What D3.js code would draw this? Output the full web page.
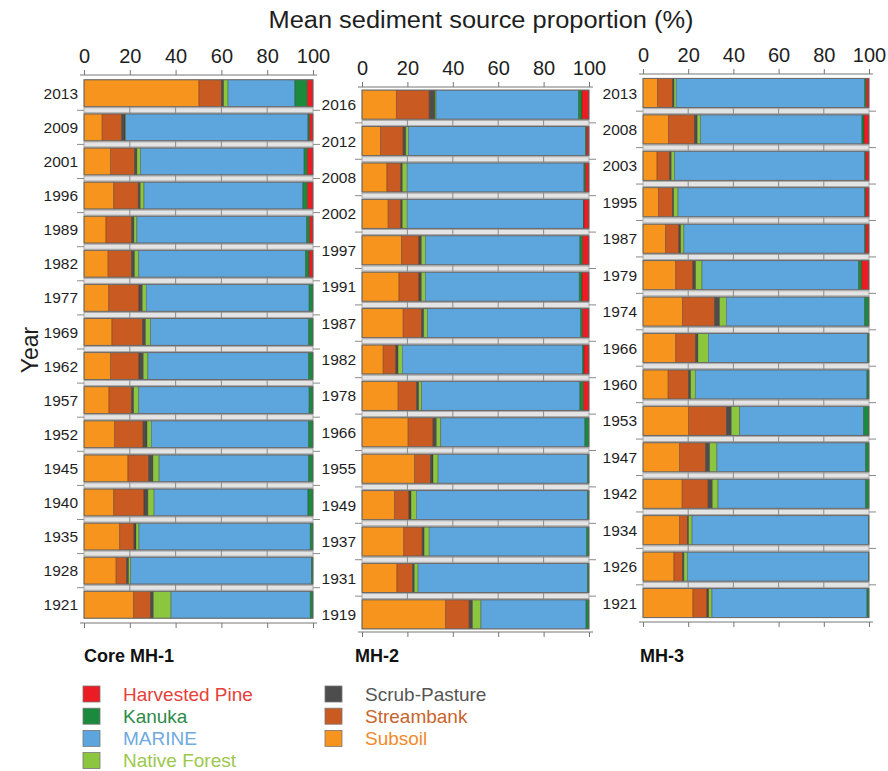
<!DOCTYPE html>
<html>
<head>
<meta charset="utf-8">
<script src="https://cdn.jsdelivr.net/npm/d3@7"></script>
<style>
  body { margin: 0; background: #fff; }
  svg { font-family: "Liberation Sans", Arial, sans-serif; }
</style>
</head>
<body>
<svg id="chart" width="888" height="771"></svg>
<script>
(function () {
    'use strict';

    // stacking order, left to right
    var sources = ['Subsoil', 'Streambank', 'Scrub-Pasture', 'Native Forest', 'MARINE', 'Kanuka', 'Harvested Pine'];
    var fills = ['#f7941e', '#c85a22', '#4d4d4d', '#8cc63f', '#5ca5dd', '#1b8a3c', '#ec1c24'];
    var legendText = ['#f08a2c', '#c8642c', '#555555', '#9cc84c', '#6eaadd', '#2e8a48', '#e5413a'];
    var xTicks = [0, 20, 40, 60, 80, 100];
    var xMinor = d3.range(0, 101, 5);

    var mh1Years = ['2013', '2009', '2001', '1996', '1989', '1982', '1977', '1969',
                    '1962', '1957', '1952', '1945', '1940', '1935', '1928', '1921'];
    var mh1Values = [
        [50.2, 9.8, 1.0, 1.9, 29.2, 5.4, 2.5],
        [7.9, 8.5, 1.5, 0.3, 79.6, 0.7, 1.5],
        [11.6, 10.5, 1.0, 1.6, 71.4, 1.4, 2.5],
        [13.0, 10.7, 0.9, 1.6, 69.4, 1.9, 2.5],
        [9.6, 11.2, 1.0, 1.3, 74.1, 1.3, 1.5],
        [10.5, 10.2, 1.4, 1.8, 72.8, 1.6, 1.7],
        [10.8, 13.2, 1.5, 1.7, 71.1, 1.7, 0],
        [12.2, 13.3, 1.4, 2.2, 69.0, 1.9, 0],
        [11.6, 12.4, 1.9, 2.0, 70.2, 1.9, 0],
        [10.9, 9.8, 1.0, 2.2, 74.4, 1.7, 0],
        [13.4, 12.4, 1.7, 1.9, 68.7, 1.9, 0],
        [19.2, 9.0, 1.9, 2.7, 65.3, 1.9, 0],
        [13.0, 13.2, 1.7, 2.7, 67.2, 2.2, 0],
        [15.6, 6.2, 0.9, 1.3, 74.8, 1.2, 0],
        [14.0, 4.6, 0.9, 0.9, 78.9, 0.7, 0],
        [21.7, 7.4, 1.2, 7.7, 60.8, 1.2, 0]
    ];

    var mh2Years = ['2016', '2012', '2008', '2002', '1997', '1991', '1987', '1982',
                    '1978', '1966', '1955', '1949', '1937', '1931', '1919'];
    var mh2Values = [
        [15.1, 14.5, 2.5, 0.5, 62.8, 1.5, 3.1],
        [8.1, 10.0, 1.2, 1.1, 78.0, 0.6, 1.0],
        [11.0, 6.1, 0.7, 2.1, 77.9, 0.7, 1.5],
        [11.5, 5.6, 0.7, 2.1, 77.6, 0.3, 2.2],
        [17.4, 7.7, 1.1, 1.7, 68.1, 1.2, 2.8],
        [16.3, 8.8, 1.1, 1.7, 67.8, 1.2, 3.1],
        [18.1, 8.1, 1.0, 1.6, 67.5, 0.9, 2.8],
        [9.3, 5.6, 1.0, 1.9, 79.4, 0.6, 2.2],
        [15.9, 8.1, 1.0, 1.3, 69.7, 1.5, 2.5],
        [20.3, 11.0, 1.5, 1.9, 63.5, 1.8, 0],
        [23.2, 6.9, 1.2, 2.2, 65.8, 0.7, 0],
        [14.4, 6.3, 0.9, 2.4, 75.3, 0.7, 0],
        [18.4, 8.1, 0.9, 2.2, 69.4, 1.0, 0],
        [15.4, 6.8, 0.9, 1.6, 74.6, 0.7, 0],
        [36.8, 10.4, 1.5, 3.7, 46.3, 1.3, 0]
    ];

    var mh3Years = ['2013', '2008', '2003', '1995', '1987', '1979', '1974', '1966',
                    '1960', '1953', '1947', '1942', '1934', '1926', '1921'];
    var mh3Values = [
        [6.5, 6.5, 0.7, 1.0, 83.4, 0.7, 1.2],
        [11.2, 11.5, 1.3, 1.5, 71.4, 0.9, 2.2],
        [6.2, 5.6, 0.7, 1.5, 84.1, 0.5, 1.4],
        [6.8, 6.2, 0.6, 1.9, 82.6, 0.5, 1.4],
        [10.0, 5.9, 0.8, 1.4, 80.0, 0.5, 1.4],
        [14.5, 7.6, 1.2, 2.8, 69.3, 1.4, 3.2],
        [17.4, 14.3, 2.2, 3.0, 61.2, 1.9, 0],
        [14.5, 8.8, 1.0, 4.6, 70.4, 0.7, 0],
        [11.1, 9.0, 1.0, 2.1, 75.9, 0.9, 0],
        [20.2, 16.7, 2.2, 3.7, 54.8, 2.4, 0],
        [16.2, 11.5, 1.8, 3.2, 65.8, 1.5, 0],
        [17.3, 11.5, 1.9, 2.5, 65.3, 1.5, 0],
        [16.2, 3.4, 0.6, 1.5, 78.0, 0.3, 0],
        [13.7, 3.7, 0.7, 1.5, 80.1, 0.3, 0],
        [22.1, 6.2, 0.8, 1.4, 68.6, 0.9, 0]
    ];

    var svg = d3.select('#chart');

    var cores = [
        {title: 'Core MH-1', years: mh1Years, values: mh1Values,
         left: 84, right: 313, top: 75, bottom: 623, pIn: 0.21, pOut: 0.14, titleX: 84},
        {title: 'MH-2', years: mh2Years, values: mh2Values,
         left: 362, right: 589, top: 87, bottom: 632, pIn: 0.2, pOut: 0.085, titleX: 355},
        {title: 'MH-3', years: mh3Years, values: mh3Values,
         left: 643, right: 869, top: 74, bottom: 622, pIn: 0.2, pOut: 0.12, titleX: 640}
    ];

    cores.forEach(drawCore);

    function drawCore(c) {
        var g = svg.append('g');

        var x = d3.scaleLinear().domain([0, 100]).range([c.left, c.right]);
        var y = d3.scaleBand()
            .domain(c.years)
            .range([c.top, c.bottom])
            .paddingInner(c.pIn)
            .paddingOuter(c.pOut);

        var rows = c.years.map(function (yr, i) {
            var r = {year: yr};
            sources.forEach(function (s, j) { r[s] = c.values[i][j]; });
            return r;
        });
        var stacked = d3.stack().keys(sources)(rows);

        // grey separator strips between the bars
        var sepG = g.append('g');
        for (var i = 1; i < c.years.length; i++) {
            var yA = y(c.years[i - 1]) + y.bandwidth();
            var yB = y(c.years[i]);
            var mid = (yA + yB) / 2;
            sepG.append('line')
                .attr('x1', x(0) - 7).attr('x2', x(100) + 7)
                .attr('y1', mid).attr('y2', mid)
                .attr('stroke', '#8a8a8a').attr('stroke-width', 1);
            sepG.append('rect')
                .attr('x', x(0)).attr('width', x(100) - x(0))
                .attr('y', mid - 2.5).attr('height', 5)
                .attr('fill', '#e4e4e4').attr('stroke', '#9a9a9a').attr('stroke-width', 0.8);
            [20, 40, 60, 80].forEach(function (t) {
                sepG.append('line')
                    .attr('x1', x(t)).attr('x2', x(t))
                    .attr('y1', mid - 3).attr('y2', mid + 3)
                    .attr('stroke', '#8a8a8a').attr('stroke-width', 1);
            });
        }

        // stacked bars
        g.append('g')
            .selectAll('g')
            .data(stacked)
            .join('g')
            .attr('fill', function (d, i) { return fills[i]; })
            .selectAll('rect')
            .data(function (d) { return d; })
            .join('rect')
            .attr('x', function (d) { return x(d[0]); })
            .attr('width', function (d) { return Math.max(0, x(d[1]) - x(d[0])); })
            .attr('y', function (d) { return y(d.data.year); })
            .attr('height', y.bandwidth())
            .attr('stroke', 'rgba(40,30,20,0.45)')
            .attr('stroke-width', 0.6);

        // bar outlines
        g.append('g')
            .selectAll('rect')
            .data(c.years)
            .join('rect')
            .attr('x', x(0))
            .attr('width', x(100) - x(0))
            .attr('y', function (d) { return y(d); })
            .attr('height', y.bandwidth())
            .attr('fill', 'none')
            .attr('stroke', '#6a6a6a')
            .attr('stroke-width', 1);

        // year labels
        g.append('g')
            .selectAll('text')
            .data(c.years)
            .join('text')
            .attr('x', c.left - 6)
            .attr('y', function (d) { return y(d) + y.bandwidth() / 2; })
            .attr('dy', '0.36em')
            .attr('text-anchor', 'end')
            .attr('font-size', 15.5)
            .attr('fill', '#1e1e1e')
            .text(function (d) { return d; });

        // top axis
        var top = g.append('g').attr('transform', 'translate(0,' + c.top + ')');
        top.call(d3.axisTop(x).tickValues(xMinor).tickSize(3).tickSizeOuter(0).tickFormat(''));
        top.call(d3.axisTop(x).tickValues(xTicks).tickSize(5).tickSizeOuter(0).tickPadding(7));
        top.selectAll('.domain').attr('d', 'M' + (x(0) - 4) + ',0H' + (x(100) + 4));
        top.selectAll('path, line').attr('stroke', '#777');
        top.selectAll('text').attr('font-size', 20).attr('fill', '#1e1e1e')
            .attr('font-family', '"Liberation Sans", Arial, sans-serif');

        // bottom axis
        var bot = g.append('g').attr('transform', 'translate(0,' + c.bottom + ')');
        bot.call(d3.axisBottom(x).tickValues(xMinor).tickSize(3).tickSizeOuter(0).tickFormat(''));
        bot.call(d3.axisBottom(x).tickValues(xTicks).tickSize(5).tickSizeOuter(0).tickFormat(''));
        bot.selectAll('.domain').attr('d', 'M' + (x(0) - 4) + ',0H' + (x(100) + 4));
        bot.selectAll('path, line').attr('stroke', '#777');

        // core title
        svg.append('text')
            .attr('x', c.titleX)
            .attr('y', 662)
            .attr('font-size', 18)
            .attr('font-weight', 'bold')
            .attr('fill', '#111')
            .text(c.title);
    }

    // main title and y label
    svg.append('text')
        .attr('x', 481).attr('y', 28)
        .attr('text-anchor', 'middle')
        .attr('font-size', 23)
        .attr('textLength', 425)
        .attr('lengthAdjust', 'spacingAndGlyphs')
        .attr('fill', '#1e1e1e')
        .text('Mean sediment source proportion (%)');

    svg.append('text')
        .attr('transform', 'translate(38,350) rotate(-90)')
        .attr('text-anchor', 'middle')
        .attr('font-size', 23)
        .attr('fill', '#1e1e1e')
        .text('Year');

    // legend, alphabetical in two columns
    var legendOrder = ['Harvested Pine', 'Kanuka', 'MARINE', 'Native Forest',
                       'Scrub-Pasture', 'Streambank', 'Subsoil'];
    var leg = svg.append('g');
    legendOrder.forEach(function (name, k) {
        var idx = sources.indexOf(name);
        var col = k < 4 ? 0 : 1;
        var row = k < 4 ? k : k - 4;
        var lx = col === 0 ? 83 : 325;
        var ly = 694 + row * 22.2;
        leg.append('rect')
            .attr('x', lx).attr('y', ly - 8)
            .attr('width', 17).attr('height', 16)
            .attr('fill', fills[idx])
            .attr('stroke', '#777').attr('stroke-width', 0.8);
        leg.append('text')
            .attr('x', lx + 40).attr('y', ly)
            .attr('dy', '0.36em')
            .attr('font-size', 19)
            .attr('fill', legendText[idx])
            .text(name);
    });
})();
</script>
</body>
</html>
